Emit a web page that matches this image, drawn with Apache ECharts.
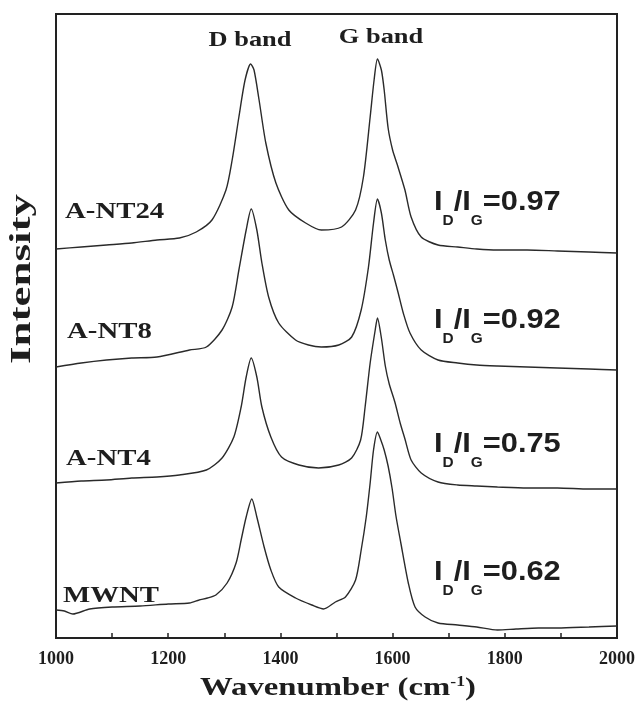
<!DOCTYPE html>
<html>
<head>
<meta charset="utf-8">
<script src="https://cdn.jsdelivr.net/npm/echarts@6/dist/echarts.min.js"></script>
<style>
html, body { margin: 0; padding: 0; background: #fff; }
#chart { width: 638px; height: 707px; }
</style>
</head>
<body>
<div id="chart"></div>
<script>
const sampleNames = ['A-NT24', 'A-NT8', 'A-NT4', 'MWNT']
const ratios = ['0.97', '0.92', '0.75', '0.62']
const bandNames = ['D band', 'G band']
const xTicks = [1000, 1200, 1400, 1600, 1800, 2000]

// [wavenumber, intensity (a.u., curves already offset)]
const aNT24 = [
  [1000, 389], [1045, 391], [1090, 393], [1135, 395], [1180, 398], [1220, 400], [1250, 406],
  [1278, 418], [1303, 448], [1314, 478], [1326, 521], [1337, 558], [1347, 574], [1353, 568],
  [1362, 538], [1374, 495], [1392, 455], [1415, 428], [1445, 415], [1473, 408], [1509, 411],
  [1534, 428], [1548, 461], [1560, 521], [1567, 558], [1573, 579], [1580, 568], [1585, 548],
  [1592, 510], [1600, 488], [1608, 474], [1622, 448], [1633, 421], [1651, 401], [1681, 393],
  [1716, 391], [1750, 389], [1787, 388], [1840, 388], [1894, 387], [1950, 386], [2000, 385]
]
const aNT8 = [
  [1000, 271], [1045, 275], [1090, 278], [1135, 280], [1180, 281], [1238, 288], [1268, 291],
  [1296, 308], [1314, 331], [1326, 368], [1339, 408], [1348, 429], [1358, 408], [1367, 375],
  [1379, 341], [1397, 315], [1427, 298], [1450, 293], [1473, 291], [1504, 293], [1527, 301],
  [1544, 328], [1557, 371], [1566, 415], [1573, 439], [1580, 425], [1587, 398], [1594, 378],
  [1602, 362], [1610, 345], [1619, 325], [1631, 305], [1651, 288], [1681, 278], [1716, 275],
  [1750, 273], [1787, 272], [1840, 271], [1894, 270], [1950, 269], [2000, 268]
]
const aNT4 = [
  [1000, 155], [1045, 157], [1090, 158], [1135, 160], [1180, 161], [1220, 163], [1268, 168],
  [1296, 180], [1317, 201], [1330, 231], [1339, 261], [1348, 280], [1358, 261], [1367, 231],
  [1383, 201], [1402, 181], [1433, 173], [1468, 170], [1504, 173], [1527, 180], [1543, 198],
  [1551, 231], [1560, 275], [1569, 308], [1573, 320], [1580, 300], [1587, 272], [1594, 254],
  [1604, 236], [1614, 214], [1622, 199], [1633, 178], [1651, 165], [1681, 156], [1716, 153],
  [1750, 152], [1787, 151], [1840, 150], [1894, 150], [1950, 149], [2000, 149]
]
const mwnt = [
  [1000, 28], [1015, 27], [1030, 24], [1060, 29], [1100, 31], [1150, 32], [1200, 34],
  [1238, 35], [1255, 38], [1270, 40], [1285, 43], [1305, 55], [1321, 75], [1330, 98],
  [1339, 121], [1349, 139], [1358, 121], [1371, 91], [1383, 68], [1397, 51], [1427, 40],
  [1456, 33], [1477, 29], [1498, 36], [1516, 41], [1534, 58], [1544, 88], [1553, 121],
  [1560, 155], [1566, 188], [1573, 206], [1579, 198], [1585, 188], [1592, 172], [1599, 150],
  [1606, 122], [1615, 94], [1628, 55], [1640, 31], [1658, 21], [1681, 15], [1716, 13],
  [1750, 11], [1787, 8], [1820, 9], [1860, 10], [1894, 10], [1950, 11], [2000, 12]
]
const curves = [aNT24, aNT8, aNT4, mwnt]

const SERIF = "'Liberation Serif', 'Times New Roman', serif"
const SANS = "'Liberation Sans', Arial, sans-serif"
const INK = '#1e1e1e'

// the figure's serif type is stretched sideways, so scaleX it
function serifLabel(text, x, y, size, sx, align) {
  return {
    type: 'text', x, y, scaleX: sx,
    style: { text, font: `bold ${size}px ${SERIF}`, fill: INK, align: align || 'left', verticalAlign: 'middle' }
  }
}

// I_D/I_G with real subscripts: main glyphs hug the line top, subscripts sit on its bottom
function ratioLabel(val, x, y) {
  return {
    type: 'text', x, y, scaleX: 1.1,
    style: {
      text: `{m|I}{s|D}{m|/I}{s|G}{m|=${val}}`,
      align: 'left', verticalAlign: 'top',
      rich: {
        m: { font: `bold 28px ${SANS}`, fill: INK, lineHeight: 28, verticalAlign: 'top' },
        s: { font: `bold 14px ${SANS}`, fill: INK, lineHeight: 40, verticalAlign: 'bottom' }
      }
    }
  }
}

const nameY = [212, 332, 459, 596]
const nameX = [65, 67, 66, 63]
const ratioY = [188, 306, 430, 558]

const chart = echarts.init(document.getElementById('chart'))
chart.setOption({
  animation: false,
  grid: { left: 56, right: 18, top: 14, bottom: 69, show: true, borderColor: '#222', borderWidth: 2 },
  xAxis: {
    type: 'value', min: 1000, max: 2000, interval: 200,
    axisLine: { lineStyle: { color: '#222', width: 2 } },
    axisTick: { inside: true, length: 5, lineStyle: { color: '#222', width: 1.5 } },
    minorTick: { show: true, splitNumber: 2, length: 5, lineStyle: { color: '#222', width: 1.5 } },
    splitLine: { show: false },
    axisLabel: {
      color: INK, fontFamily: SERIF, fontWeight: 'bold', fontSize: 18, margin: 12,
      formatter: v => xTicks.includes(v) ? String(v) : ''
    }
  },
  yAxis: {
    type: 'value', min: 0, max: 624,
    axisLine: { show: false }, axisTick: { show: false },
    axisLabel: { show: false }, splitLine: { show: false }
  },
  series: curves.map((d, i) => ({
    name: sampleNames[i], type: 'line', data: d,
    showSymbol: false, smooth: 0.25,
    lineStyle: { color: '#2a2a2a', width: 1.4 }
  })),
  graphic: [
    serifLabel(bandNames[0], 250, 40, 22, 1.2, 'center'),
    serifLabel(bandNames[1], 381, 37, 22, 1.2, 'center'),
    ...sampleNames.map((n, i) => serifLabel(n, nameX[i], nameY[i], 24, 1.2)),
    ...ratios.map((r, i) => ratioLabel(r, 434, ratioY[i])),
    {
      type: 'text', x: 22, y: 279, rotation: Math.PI / 2, scaleX: 1.5,
      style: { text: 'Intensity', font: `bold 30px ${SERIF}`, fill: INK, align: 'center', verticalAlign: 'middle' }
    },
    {
      type: 'text', x: 338, y: 690, scaleX: 1.26,
      style: {
        text: '{m|Wavenumber (cm}{p|-1}{m|)}', align: 'center', verticalAlign: 'middle',
        rich: {
          m: { font: `bold 26px ${SERIF}`, fill: INK, lineHeight: 30, verticalAlign: 'top' },
          p: { font: `bold 14px ${SERIF}`, fill: INK, lineHeight: 14, verticalAlign: 'top' }
        }
      }
    }
  ]
})
</script>
</body>
</html>
